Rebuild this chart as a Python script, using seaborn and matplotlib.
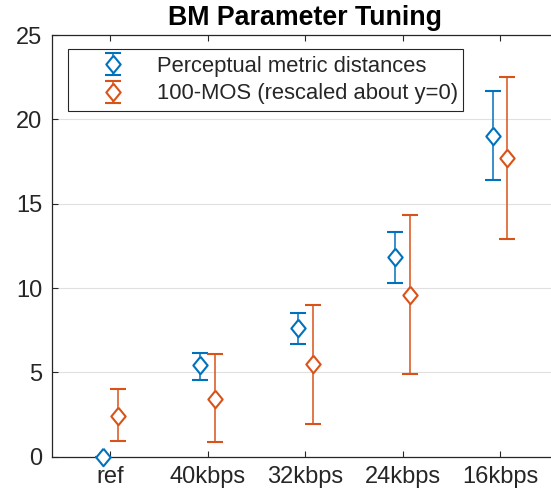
import matplotlib
matplotlib.use("Agg")
import matplotlib.pyplot as plt
import numpy as np
import seaborn as sns

sns.set_style("ticks")
plt.rcParams['font.family'] = ['Liberation Sans', 'DejaVu Sans']

# ---- data ----
categories = ['ref', '40kbps', '32kbps', '24kbps', '16kbps']
metric_mean = [0.0, 5.44, 7.61, 11.82, 19.01]
metric_low = [0.0, 4.55, 6.66, 10.28, 16.40]
metric_high = [0.0, 6.16, 8.54, 13.30, 21.70]
mos_mean = [2.41, 3.40, 5.49, 9.58, 17.72]
mos_low = [0.95, 0.89, 1.92, 4.88, 12.89]
mos_high = [3.99, 6.09, 8.99, 14.33, 22.52]
labels = ['Perceptual metric distances', '100-MOS (rescaled about y=0)']
title = 'BM Parameter Tuning'
yticks = [0, 5, 10, 15, 20, 25]

blue = '#0072BD'
orange = '#D95319'
axc = '#262626'

diamond = [(0, 1), (0.82, 0), (0, -1), (-0.82, 0), (0, 1)]

fig = plt.figure(figsize=(5.51, 5.01), dpi=100)
W, H = 551, 501
left, right, top, bottom = 51.8, 558.6, 35.0, 456.7
ax = fig.add_axes([left / W, (H - bottom) / H, (right - left) / W, (bottom - top) / H])

x = np.arange(1, len(categories) + 1)

def draw(xpos, mean, lo, hi, color, label):
    mean = np.asarray(mean)
    yerr = np.vstack([mean - np.asarray(lo), np.asarray(hi) - mean])
    cont = ax.errorbar(xpos, mean, yerr=yerr, ls='none', marker=diamond, ms=12.6,
                       mfc='white', mec=color, mew=1.5, color=color, ecolor=color,
                       elinewidth=1.1, capsize=6, capthick=1.1, label=label, zorder=3)
    for art in cont.get_children():
        art.set_clip_on(False)

draw(x - 0.075, metric_mean, metric_low, metric_high, blue, labels[0])
draw(x + 0.075, mos_mean, mos_low, mos_high, orange, labels[1])

ax.set_xlim(0.4, 5.6)
ax.set_ylim(0, 25)
ax.set_xticks(x)
ax.set_xticklabels(categories)
ax.set_yticks(yticks)
ax.yaxis.grid(True, color='#e0e0e0', lw=0.8, zorder=0)
ax.xaxis.grid(False)
ax.set_axisbelow(True)

for s in ['left', 'bottom', 'top', 'right']:
    ax.spines[s].set_color(axc)
    ax.spines[s].set_linewidth(0.9)
ax.tick_params(axis='both', direction='in', length=4.5, width=0.8, color=axc,
               labelcolor=axc, labelsize=17, pad=7, top=True, right=True)

ax.set_title(title, fontsize=19.3, fontweight='bold', color='black', pad=7)

x0 = (67.7 - left) / (right - left)
y1 = (bottom - 49.3) / (bottom - top)
y0 = (bottom - 112.3) / (bottom - top)
w = (463.3 - 67.7) / (right - left)
leg = ax.legend(loc='upper left', bbox_to_anchor=(x0, y0, w, y1 - y0), mode='expand',
                borderaxespad=0, fontsize=15.8, frameon=True, fancybox=False,
                edgecolor='#262626', framealpha=1, borderpad=0.3,
                handlelength=3.5, handletextpad=0.26, labelspacing=0.3)
leg.get_frame().set_linewidth(0.8)

fig.savefig('out.png', dpi=100)
